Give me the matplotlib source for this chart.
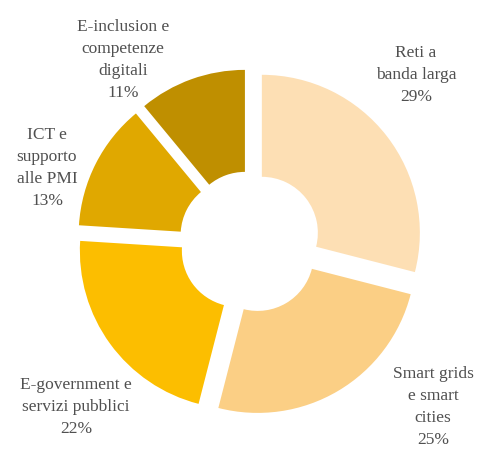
import matplotlib
matplotlib.use("Agg")
import matplotlib.pyplot as plt

# data, clockwise from 12 o'clock
categories = ["Reti a\nbanda larga", "Smart grids\ne smart\ncities",
              "E-government e\nservizi pubblici", "ICT e\nsupporto\nalle PMI",
              "E-inclusion e\ncompetenze\ndigitali"]
shares = [29, 25, 22, 13, 11]
colors = ["#FDDFB4", "#FBCF85", "#FCBE00", "#E0A800", "#BF8F00"]

# layout (pixel units, y measured from the bottom)
W, H = 478, 451
center = (250, H - 242)
R_OUT, R_IN = 158, 56
EXPLODE = 15
label_pos = [(416, H - 75), (433, H - 407), (76, H - 407), (47, H - 168), (123, H - 60)]

plt.rcParams['font.family'] = ['Liberation Serif', 'DejaVu Serif']

fig = plt.figure(figsize=(W / 100, H / 100), dpi=100)
ax = fig.add_axes([0, 0, 1, 1])
ax.pie(shares, colors=colors, startangle=90, counterclock=False,
       center=center, radius=R_OUT, explode=[EXPLODE] * len(shares),
       wedgeprops=dict(width=R_OUT - R_IN, linewidth=0))

for cat, val, (x, y) in zip(categories, shares, label_pos):
    ax.text(x, y, f"{cat}\n{val}%", ha="center", va="center",
            fontsize=12.5, color="#505050", linespacing=1.5)

ax.set_xlim(0, W)
ax.set_ylim(0, H)
ax.set_aspect("equal")
ax.axis("off")
fig.savefig("out.png", dpi=100, facecolor="white")
